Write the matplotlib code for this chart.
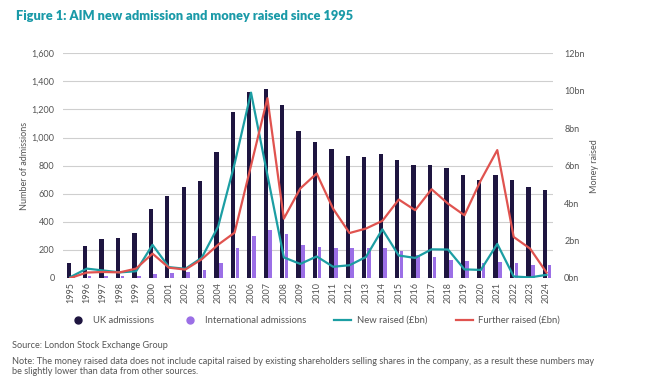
import numpy as np
import matplotlib.pyplot as plt
from matplotlib.lines import Line2D

plt.rcParams['font.family'] = ['Lato', 'DejaVu Sans']

years = [str(y) for y in range(1995, 2025)]
uk_admissions = [110, 230, 280, 285, 320, 490, 585, 650, 690, 900,
                 1180, 1325, 1345, 1230, 1050, 965, 915, 870, 860, 885,
                 840, 805, 805, 780, 735, 700, 730, 700, 650, 625]
intl_admissions = [5, 15, 15, 15, 15, 25, 35, 45, 55, 110,
                   215, 300, 340, 310, 235, 220, 215, 215, 215, 210,
                   190, 165, 150, 130, 120, 105, 112, 105, 95, 95]
new_raised = [0.05, 0.5, 0.4, 0.3, 0.36, 1.77, 0.58, 0.49, 1.08, 2.75,
              6.1, 9.9, 5.5, 1.1, 0.75, 1.15, 0.6, 0.68, 1.12, 2.6,
              1.2, 1.07, 1.53, 1.52, 0.46, 0.43, 1.82, 0.08, 0.03, 0.17]
further_raised = [0.0, 0.29, 0.32, 0.3, 0.5, 1.3, 0.55, 0.45, 1.0, 1.78,
                  2.42, 6.0, 9.6, 3.17, 4.78, 5.58, 3.7, 2.4, 2.64, 3.05,
                  4.19, 3.62, 4.74, 3.97, 3.35, 5.22, 6.83, 2.19, 1.57, 0.29]

navy = '#1e1540'
purple = '#9b6fe6'
teal = '#1c9ea3'
red = '#e0534f'
grey = '#555555'

fig = plt.figure(figsize=(6.53, 3.87), dpi=100)
ax = fig.add_axes([0.0965, 0.2817, 0.7505, 0.5806])
x = np.arange(len(years))

ax.bar(x - 0.1, uk_admissions, width=0.26, color=navy, zorder=2)
ax.bar(x + 0.17, intl_admissions, width=0.22, color=purple, zorder=2)
ax.set_ylim(0, 1600)
ax.set_yticks(range(0, 1601, 200))
ax.set_yticklabels([f'{v:,}' for v in range(0, 1601, 200)])
ax.set_xlim(-0.45, 29.4)
ax.set_xticks(x)
ax.set_xticklabels(years, rotation=90)
ax.grid(axis='y', color='#cfcfcf', linewidth=0.8, zorder=0)
ax.set_axisbelow(True)
for s in ax.spines.values():
    s.set_visible(False)
ax.tick_params(length=0, labelsize=6.5, colors=grey, pad=6)
ax.tick_params(axis='x', pad=3)
ax.set_ylabel('Number of admissions', fontsize=6.5, color=grey, labelpad=2)

ax2 = ax.twinx()
ax2.plot(x, new_raised, color=teal, linewidth=1.6, zorder=3)
ax2.plot(x, further_raised, color=red, linewidth=1.6, zorder=3)
ax2.set_ylim(0, 12)
ax2.set_yticks(range(0, 13, 2))
ax2.set_yticklabels([f'{v}bn' for v in range(0, 13, 2)])
for s in ax2.spines.values():
    s.set_visible(False)
ax2.tick_params(length=0, labelsize=6.5, colors=grey, pad=8)
ax2.set_ylabel('Money raised', fontsize=6.5, color=grey, rotation=90, labelpad=4)

fig.text(0.0245, 0.958, 'Figure 1: AIM new admission and money raised since 1995',
         fontsize=9.2, fontweight='heavy', color='#1a9aa8', va='center')

handles = [
    Line2D([], [], marker='o', linestyle='', color=navy, markersize=5),
    Line2D([], [], marker='o', linestyle='', color=purple, markersize=5),
    Line2D([], [], color=teal, linewidth=1.6),
    Line2D([], [], color=red, linewidth=1.6),
]
labels = ['UK admissions', 'International admissions', 'New raised (£bn)', 'Further raised (£bn)']
fig.legend(handles, labels, loc='center left', bbox_to_anchor=(0.094, 0.172), ncol=4,
           frameon=False, fontsize=6.8, labelcolor=grey, handlelength=1.8,
           columnspacing=3.0, handletextpad=0.6)

fig.text(0.019, 0.106, 'Source: London Stock Exchange Group', fontsize=6.6, color=grey, va='center')
fig.text(0.019, 0.067, 'Note: The money raised data does not include capital raised by existing shareholders '
         'selling shares in the company, as a result these numbers may', fontsize=6.6, color=grey, va='center')
fig.text(0.019, 0.039, 'be slightly lower than data from other sources.', fontsize=6.6, color=grey, va='center')

fig.savefig('out.png', dpi=100)
